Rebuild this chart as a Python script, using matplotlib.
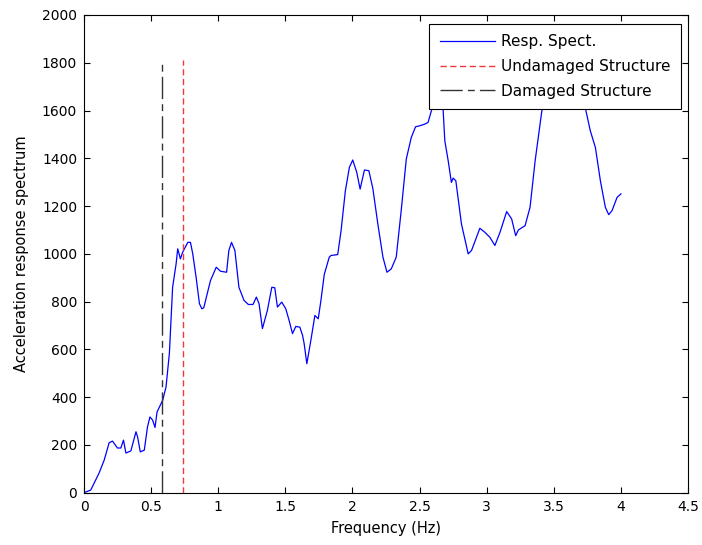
import numpy as np
import matplotlib
matplotlib.use("Agg")
import matplotlib.pyplot as plt

# ── Data ─────────────────────────────────────────────────────────────────────
freq = [0.000, 0.050, 0.112, 0.150, 0.187, 0.212, 0.249, 0.274, 0.294, 0.312,
        0.349, 0.387, 0.399, 0.419, 0.449, 0.473, 0.491, 0.511, 0.529, 0.544,
        0.586, 0.611, 0.636, 0.660, 0.686, 0.698, 0.718, 0.735, 0.773, 0.793,
        0.810, 0.835, 0.860, 0.878, 0.892, 0.942, 0.985, 1.017, 1.062, 1.079,
        1.099, 1.124, 1.154, 1.192, 1.224, 1.259, 1.284, 1.304, 1.329, 1.366,
        1.399, 1.421, 1.441, 1.473, 1.503, 1.528, 1.553, 1.578, 1.608, 1.628,
        1.640, 1.660, 1.690, 1.720, 1.745, 1.765, 1.790, 1.827, 1.840, 1.890,
        1.915, 1.947, 1.977, 2.002, 2.032, 2.057, 2.089, 2.122, 2.152, 2.189,
        2.227, 2.257, 2.289, 2.326, 2.363, 2.401, 2.438, 2.470, 2.500, 2.538,
        2.563, 2.588, 2.630, 2.675, 2.688, 2.713, 2.737, 2.750, 2.770, 2.812,
        2.862, 2.887, 2.949, 2.987, 3.024, 3.061, 3.099, 3.149, 3.186, 3.216,
        3.236, 3.286, 3.323, 3.361, 3.411, 3.500, 3.630, 3.680, 3.735, 3.772,
        3.810, 3.847, 3.884, 3.909, 3.934, 3.971, 4.000]
resp = [0, 11, 82, 136, 209, 216, 187, 187, 220, 166,
        175, 255, 234, 171, 178, 276, 317, 304, 273, 338,
        387, 443, 584, 860, 958, 1021, 979, 1007, 1048, 1048,
        1000, 902, 791, 770, 774, 888, 944, 927, 923, 1014,
        1048, 1014, 860, 805, 788, 788, 819, 791, 687, 763,
        860, 858, 777, 798, 770, 721, 666, 696, 693, 659,
        624, 540, 638, 742, 728, 805, 914, 986, 993, 997,
        1097, 1264, 1362, 1393, 1341, 1271, 1351, 1348, 1273, 1125,
        986, 923, 937, 986, 1181, 1397, 1487, 1532, 1536, 1543,
        1550, 1599, 1670, 1606, 1473, 1390, 1299, 1317, 1306, 1125,
        1000, 1014, 1107, 1090, 1069, 1035, 1090, 1177, 1146, 1076,
        1100, 1118, 1195, 1390, 1599, 1700, 1620, 1650, 1610, 1515,
        1445, 1306, 1195, 1164, 1181, 1236, 1251]

f_undamaged = 0.74
f_damaged = 0.58
line_top = 1810

plt.rcParams["font.family"] = ["DejaVu Sans"]
plt.rcParams["font.size"] = 10

fig = plt.figure(figsize=(7.02, 5.45), dpi=100)
ax = fig.add_axes([0.1197, 0.0960, 0.8604, 0.8765])

ax.plot(freq, resp, color="#0000FF", linewidth=0.9, label="Resp. Spect.")
ax.plot([f_undamaged, f_undamaged], [0, line_top], color="#F03838",
        linewidth=1.0, dashes=(4.5, 2.5), label="Undamaged Structure")
ax.plot([f_damaged, f_damaged], [0, line_top], color="#333333",
        linewidth=1.0, dashes=(16, 3.7, 5, 3.7), label="Damaged Structure")

ax.set_xlim(0, 4.5)
ax.set_ylim(0, 2000)
ax.set_xticks(np.arange(0, 4.51, 0.5))
ax.set_xticklabels(["0", "0.5", "1", "1.5", "2", "2.5", "3", "3.5", "4", "4.5"])
ax.set_yticks(np.arange(0, 2001, 200))
ax.tick_params(direction="in", top=True, right=True, length=4, width=0.8,
               labelsize=10, pad=5)
for s in ax.spines.values():
    s.set_linewidth(0.8)

ax.set_xlabel("Frequency (Hz)", fontsize=10.5, labelpad=5)
ax.set_ylabel("Acceleration response spectrum", fontsize=10.5, labelpad=9)

leg = ax.legend(loc="upper right", bbox_to_anchor=(0.988, 0.981),
                fontsize=11, frameon=True, fancybox=False,
                edgecolor="black", framealpha=1.0, borderaxespad=0.0,
                handlelength=3.6, handletextpad=0.4, labelspacing=0.63,
                borderpad=0.68)
leg.get_frame().set_linewidth(0.8)
leg.set_zorder(10)

fig.savefig("out.png", dpi=100)
